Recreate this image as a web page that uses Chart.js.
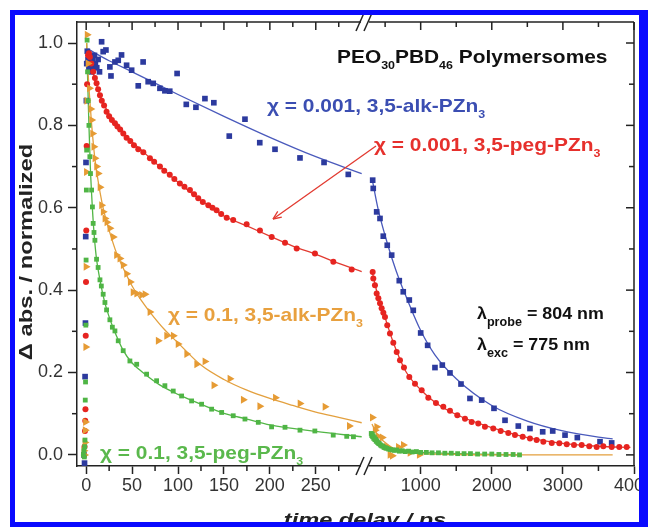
<!DOCTYPE html>
<html>
<head>
<meta charset="utf-8">
<script src="https://cdn.jsdelivr.net/npm/chart.js@4.4.1/dist/chart.umd.min.js"></script>
<style>
  html, body { margin: 0; padding: 0; background: #fff; }
</style>
</head>
<body>
<canvas id="myChart" width="648" height="527"></canvas>
<script>
// ------------------   DATA   ----------------
// time delay in ps, signal normalized. left panel 0-300 ps, right panel 300-4000 ps
const X_TICKS_LEFT = [0, 50, 100, 150, 200, 250];
const X_MINOR_LEFT = [25, 75, 125, 175, 225, 275];
const X_TICKS_RIGHT = [1000, 2000, 3000, 4000];
const X_MINOR_RIGHT = [500, 1500, 2500, 3500];
const Y_TICKS = [0, 0.2, 0.4, 0.6, 0.8, 1.0];
const Y_MINOR = [0.1, 0.3, 0.5, 0.7, 0.9];

// chi = 0.001, 3,5-alk-PZn3 (blue)
const blueLeftT = [-2.5, -1.8, -1.2, -0.8, -0.5, -0.2, 0.2, 0.6, 1.2, 2, 3, 4, 5, 6, 7, 8, 9, 10, 11.5, 13, 14.5, 16.8, 18.5, 21.5, 25.8, 27, 31.3, 34.9, 38.5, 44, 49.5, 56.7, 62, 67.5, 73, 80.3, 85.7, 91, 99, 109, 119.5, 129.3, 139, 155.8, 172.9, 189, 205.6, 232.8, 259, 285.4];
const blueLeftV = [0.0, -0.02, 0.19, 0.32, 0.53, 0.71, 0.86, 0.95, 0.98, 0.96, 0.94, 0.97, 0.95, 0.93, 0.96, 0.94, 0.97, 0.95, 0.94, 0.96, 0.93, 1.003, 0.979, 0.983, 0.942, 0.92, 0.954, 0.958, 0.971, 0.946, 0.934, 0.896, 0.954, 0.906, 0.902, 0.89, 0.884, 0.883, 0.926, 0.851, 0.844, 0.865, 0.855, 0.774, 0.815, 0.758, 0.742, 0.721, 0.710, 0.681];
const blueFitLeftT = [2, 25, 50, 100, 150, 200, 250, 300];
const blueFitLeftV = [0.985, 0.957, 0.930, 0.875, 0.822, 0.771, 0.724, 0.683];
const blueRightT = [325, 333, 381, 428, 474, 530, 592, 699, 755, 840, 896, 1000, 1098, 1201, 1304, 1412, 1567, 1693, 1858, 2031, 2186, 2373, 2537, 2716, 2857, 3030, 3203, 3522, 3686];
const blueRightV = [0.667, 0.647, 0.590, 0.574, 0.531, 0.509, 0.485, 0.423, 0.396, 0.376, 0.351, 0.296, 0.266, 0.212, 0.218, 0.199, 0.172, 0.137, 0.133, 0.113, 0.084, 0.070, 0.064, 0.056, 0.058, 0.048, 0.042, 0.032, 0.029];
const blueFitRightT = [315, 400, 500, 600, 700, 800, 1000, 1200, 1500, 2000, 2500, 3000, 3500, 3700];
const blueFitRightV = [0.672, 0.598, 0.532, 0.475, 0.425, 0.382, 0.302, 0.243, 0.185, 0.12, 0.082, 0.058, 0.043, 0.039];

// chi = 0.001, 3,5-peg-PZn3 (red)
const redLeftT = [-2.5, -1.8, -1.3, -1.0, -0.8, -0.5, -0.2, 0.1, 0.5, 1.0, 2, 3, 4, 5.5, 7.6, 9.5, 11.3, 13, 15, 17, 19.5, 22.2, 25, 28, 31.3, 34, 37, 40.4, 44, 48, 52, 56.7, 62.2, 69.4, 74, 80.3, 85, 91, 96, 102, 107, 113, 117.5, 122, 127, 133, 137.5, 142, 147, 153, 160.1, 174.7, 189.2, 202, 216.5, 229.2, 249.1, 269.1, 289.1];
const redLeftV = [0.0, 0.02, 0.058, 0.083, 0.111, 0.289, 0.42, 0.545, 0.75, 0.9, 0.97, 0.975, 0.966, 0.95, 0.93, 0.915, 0.902, 0.888, 0.873, 0.86, 0.848, 0.833, 0.822, 0.813, 0.805, 0.797, 0.79, 0.78, 0.77, 0.762, 0.752, 0.742, 0.735, 0.72, 0.712, 0.70, 0.69, 0.68, 0.67, 0.659, 0.651, 0.643, 0.633, 0.623, 0.614, 0.606, 0.6, 0.594, 0.585, 0.576, 0.570, 0.560, 0.545, 0.529, 0.515, 0.501, 0.489, 0.469, 0.450];
const redFitLeftT = [1.5, 3, 5, 10, 15, 20, 30, 40, 50, 60, 80, 100, 125, 150, 175, 200, 225, 250, 275, 300];
const redFitLeftV = [0.975, 0.968, 0.948, 0.908, 0.873, 0.848, 0.808, 0.782, 0.76, 0.74, 0.70, 0.662, 0.618, 0.58, 0.556, 0.531, 0.507, 0.487, 0.465, 0.445];
const redRightT = [325, 334, 357, 381, 405, 428, 451, 475, 498, 530, 568, 615, 663, 709, 765, 840, 920, 1014, 1107, 1215, 1318, 1412, 1515, 1623, 1717, 1810, 1904, 2021, 2125, 2232, 2326, 2435, 2537, 2631, 2725, 2843, 2950, 3054, 3156, 3264, 3371, 3475, 3568, 3686, 3793, 3897];
const redRightV = [0.444, 0.428, 0.412, 0.392, 0.38, 0.368, 0.356, 0.345, 0.335, 0.315, 0.295, 0.272, 0.250, 0.230, 0.212, 0.189, 0.173, 0.157, 0.139, 0.126, 0.117, 0.107, 0.096, 0.088, 0.080, 0.076, 0.068, 0.064, 0.058, 0.053, 0.048, 0.044, 0.040, 0.036, 0.032, 0.029, 0.028, 0.026, 0.024, 0.024, 0.021, 0.019, 0.021, 0.019, 0.019, 0.019];
const redFitRightT = [311, 400, 500, 600, 700, 800, 1000, 1200, 1500, 2000, 2500, 3000, 3500, 3950];
const redFitRightV = [0.45, 0.385, 0.333, 0.28, 0.236, 0.2, 0.158, 0.128, 0.098, 0.066, 0.042, 0.028, 0.021, 0.018];

// chi = 0.1, 3,5-alk-PZn3 (orange)
const orangeLeftT = [-2.5, -1.8, -1.4, -1.1, -0.8, -0.5, -0.2, 0.2, 0.6, 1.0, 2, 3.5, 5, 5.9, 7, 8.3, 9.5, 11.3, 13, 15, 16.7, 18.5, 20.4, 22.5, 25.8, 29.4, 33, 36.7, 40.3, 44, 48, 51, 55, 60.3, 64, 69.4, 78.4, 87.6, 94.8, 100, 109.4, 120.3, 129.3, 139, 156.5, 171, 189, 206, 232.8, 260, 286.5];
const orangeLeftV = [0.01, 0.0, 0.03, 0.06, 0.08, 0.262, 0.457, 0.687, 0.86, 1.02, 0.95, 0.89, 0.84, 0.813, 0.78, 0.748, 0.72, 0.70, 0.683, 0.65, 0.606, 0.59, 0.574, 0.565, 0.55, 0.529, 0.485, 0.477, 0.461, 0.44, 0.42, 0.395, 0.392, 0.388, 0.39, 0.347, 0.277, 0.289, 0.289, 0.269, 0.245, 0.220, 0.227, 0.169, 0.185, 0.134, 0.118, 0.139, 0.125, 0.117, 0.070];
const orangeFitLeftT = [0.5, 2, 4, 6, 8, 10, 13, 17, 20, 25, 33, 40, 50, 60, 70, 85, 100, 125, 150, 175, 200, 225, 250, 275, 300];
const orangeFitLeftV = [1.0, 0.93, 0.86, 0.80, 0.75, 0.71, 0.665, 0.615, 0.585, 0.545, 0.49, 0.455, 0.41, 0.375, 0.345, 0.305, 0.272, 0.218, 0.183, 0.157, 0.137, 0.12, 0.104, 0.091, 0.078];
const orangeRightT = [320, 360, 381, 400, 459, 520, 568, 600, 686, 756, 850, 980];
const orangeRightV = [0.091, 0.06, 0.068, 0.045, 0.042, 0.02, 0.0, -0.002, 0.019, 0.024, 0.005, 0.0];
const orangeFitRightT = [315, 400, 500, 600, 800, 1000, 1500, 2000, 3000, 3700];
const orangeFitRightV = [0.075, 0.047, 0.03, 0.018, 0.007, 0.003, 0.001, 0.0, 0.0, 0.0];

// chi = 0.1, 3,5-peg-PZn3 (green)
const greenLeftT = [-3, -2.5, -2, -1.6, -1.3, -1.0, -0.7, -0.4, -0.1, 0.2, 0.5, 1.0, 1.5, 2.2, 3, 4, 4.7, 5.9, 6.8, 7.6, 8.5, 9.5, 11.3, 13, 15, 16.5, 18.5, 20.4, 22.2, 25.8, 28.5, 31.3, 34.9, 40.3, 47.6, 55, 65.8, 76.7, 85.7, 94.8, 103.9, 114.8, 125.7, 136.6, 147.5, 160.1, 172.9, 187.4, 201.9, 216.5, 232.8, 249, 269, 283.7, 291];
const greenLeftV = [0.0, 0.01, -0.005, 0.02, 0.036, 0.133, 0.177, 0.315, 0.473, 0.643, 0.74, 1.007, 0.93, 0.86, 0.80, 0.724, 0.683, 0.643, 0.602, 0.562, 0.54, 0.521, 0.475, 0.455, 0.425, 0.41, 0.39, 0.37, 0.352, 0.328, 0.31, 0.301, 0.277, 0.253, 0.228, 0.22, 0.196, 0.18, 0.168, 0.155, 0.143, 0.131, 0.123, 0.111, 0.103, 0.095, 0.087, 0.079, 0.068, 0.067, 0.06, 0.058, 0.048, 0.045, 0.044];
const greenFitLeftT = [0.5, 1.5, 3, 4.5, 6, 8, 11, 15, 20, 25, 30, 40, 50, 60, 80, 100, 125, 150, 175, 200, 250, 300];
const greenFitLeftV = [1.0, 0.92, 0.8, 0.7, 0.63, 0.555, 0.48, 0.425, 0.372, 0.335, 0.305, 0.255, 0.223, 0.203, 0.17, 0.147, 0.123, 0.101, 0.087, 0.073, 0.057, 0.044];
const greenRightT = [305, 312, 318, 325, 332, 340, 348, 356, 365, 375, 385, 395, 408, 420, 435, 450, 468, 485, 505, 525, 550, 575, 600, 630, 660, 700, 740, 780, 830, 880, 940, 1000, 1080, 1160, 1250, 1340, 1430, 1520, 1610, 1700, 1800, 1900, 2000, 2100, 2200, 2300, 2390];
const greenRightV = [0.052, 0.047, 0.05, 0.044, 0.046, 0.04, 0.042, 0.037, 0.038, 0.033, 0.034, 0.03, 0.028, 0.027, 0.024, 0.022, 0.021, 0.018, 0.017, 0.016, 0.014, 0.013, 0.012, 0.011, 0.012, 0.009, 0.010, 0.008, 0.009, 0.007, 0.008, 0.006, 0.006, 0.005, 0.005, 0.004, 0.004, 0.003, 0.003, 0.003, 0.002, 0.002, 0.002, 0.001, 0.001, 0.001, 0.0];
const greenFitRightT = [305, 400, 500, 700, 1000, 1500, 2000, 2400];
const greenFitRightV = [0.048, 0.03, 0.019, 0.01, 0.006, 0.003, 0.001, 0.0];

// ------------------   STYLE   ----------------
const AXIS = '#222';
const FONT = '"Liberation Sans", Arial, Helvetica, sans-serif';
const BLUE = '#2c3a9e', BLUE_LN = '#4a5abc', BLUE_TXT = '#3b4eb2';
const RED = '#e62420', RED_LN = '#e23a30', RED_TXT = '#e6302c';
const ORANGE = '#e69b34', ORANGE_LN = '#e3a03e', ORANGE_TXT = '#e8a03e';
const GREEN = '#4fb545', GREEN_LN = '#52b646', GREEN_TXT = '#5ab84c';

// ------------   FUNCTIONS   ----------------------
const pts = (ts, vs) => ts.map((t, i) => ({ x: t, y: vs[i] }));

function marks(ts, vs, axis, color, style, r, order) {
  return {
    data: pts(ts, vs), xAxisID: axis, yAxisID: 'y', showLine: false,
    pointStyle: style, pointRadius: r, pointHoverRadius: r,
    rotation: style === 'triangle' ? 90 : 0,
    backgroundColor: color, borderColor: color, borderWidth: 0, order,
  };
}

function fit(ts, vs, axis, color) {
  return {
    data: pts(ts, vs), xAxisID: axis, yAxisID: 'y', showLine: true,
    pointRadius: 0, borderColor: color, borderWidth: 1.3,
    cubicInterpolationMode: 'monotone', order: 10,
  };
}

function line(ctx, xa, ya, xb, yb) {
  ctx.beginPath();
  ctx.moveTo(xa, ya);
  ctx.lineTo(xb, yb);
  ctx.stroke();
}

// text with subscripts, stretched horizontally by sx
function richText(ctx, x, y, parts, color, size, subSize, subDy, sx) {
  ctx.save();
  ctx.translate(x, y);
  ctx.scale(sx, 1);
  ctx.fillStyle = color;
  ctx.textAlign = 'left';
  ctx.textBaseline = 'alphabetic';
  let cx = 0;
  for (const [text, sub] of parts) {
    ctx.font = `bold ${sub ? subSize : size}px ${FONT}`;
    ctx.fillText(text, cx, sub ? subDy : 0);
    cx += ctx.measureText(text).width;
  }
  ctx.restore();
}

const decorations = {
  id: 'decorations',
  afterDraw(chart) {
    const { ctx, chartArea: a } = chart;
    const { x1, x2, y } = chart.scales;
    ctx.save();
    ctx.strokeStyle = AXIS;
    ctx.lineWidth = 1.5;
    // box: top and right
    line(ctx, a.left, a.top, a.right, a.top);
    line(ctx, a.right, a.top, a.right, a.bottom);

    // minor ticks (outside) on left / bottom
    Y_MINOR.forEach(v => { const py = y.getPixelForValue(v); line(ctx, a.left - 5, py, a.left, py); });
    X_MINOR_LEFT.forEach(v => { const px = x1.getPixelForValue(v); line(ctx, px, a.bottom, px, a.bottom + 5); });
    X_MINOR_RIGHT.forEach(v => { const px = x2.getPixelForValue(v); line(ctx, px, a.bottom, px, a.bottom + 5); });

    // mirrored ticks (inside) on top / right
    X_TICKS_LEFT.forEach(v => { const px = x1.getPixelForValue(v); line(ctx, px, a.top, px, a.top + 8); });
    X_MINOR_LEFT.forEach(v => { const px = x1.getPixelForValue(v); line(ctx, px, a.top, px, a.top + 5); });
    X_TICKS_RIGHT.forEach(v => { const px = x2.getPixelForValue(v); line(ctx, px, a.top, px, a.top + 8); });
    X_MINOR_RIGHT.forEach(v => { const px = x2.getPixelForValue(v); line(ctx, px, a.top, px, a.top + 5); });
    Y_TICKS.forEach(v => { const py = y.getPixelForValue(v); line(ctx, a.right - 8, py, a.right, py); });
    Y_MINOR.forEach(v => { const py = y.getPixelForValue(v); line(ctx, a.right - 5, py, a.right, py); });

    // axis break
    const bx = x2.left;
    [a.top, a.bottom].forEach(yy => {
      ctx.fillStyle = '#fff';
      ctx.fillRect(bx - 4, yy - 3, 8, 6);
      line(ctx, bx - 9, yy + 9, bx - 1, yy - 9);
      line(ctx, bx - 1, yy + 9, bx + 7, yy - 9);
    });

    // axis titles
    ctx.fillStyle = AXIS;
    ctx.save();
    ctx.translate(32, 252);
    ctx.rotate(-Math.PI / 2);
    ctx.scale(1.25, 1);
    ctx.font = `bold 19px ${FONT}`;
    ctx.textAlign = 'center';
    ctx.textBaseline = 'alphabetic';
    ctx.fillText('\u0394 abs. / normalized', 0, 0);
    ctx.restore();

    ctx.save();
    ctx.translate(365, 526);
    ctx.scale(1.24, 1);
    ctx.font = `italic bold 19px ${FONT}`;
    ctx.textAlign = 'center';
    ctx.fillText('time delay / ps', 0, 0);
    ctx.restore();

    // annotations
    richText(ctx, 337, 63, [['PEO'], ['30', 1], ['PBD'], ['46', 1], [' Polymersomes']], '#111', 18.5, 11, 6, 1.13);
    richText(ctx, 267, 112, [['\u03c7 = 0.001, 3,5-alk-PZn'], ['3', 1]], BLUE_TXT, 18.5, 11, 6, 1.13);
    richText(ctx, 374, 151, [['\u03c7 = 0.001, 3,5-peg-PZn'], ['3', 1]], RED_TXT, 18.5, 11, 6, 1.13);
    richText(ctx, 168, 321, [['\u03c7 = 0.1, 3,5-alk-PZn'], ['3', 1]], ORANGE_TXT, 18.5, 11, 6, 1.13);
    richText(ctx, 100, 459, [['\u03c7 = 0.1, 3,5-peg-PZn'], ['3', 1]], GREEN_TXT, 18.5, 11, 6, 1.13);
    richText(ctx, 477, 319, [['\u03bb'], ['probe', 1], [' = 804 nm']], '#111', 17, 12, 7, 1.05);
    richText(ctx, 477, 350, [['\u03bb'], ['exc', 1], [' = 775 nm']], '#111', 17, 12, 7, 1.05);

    // red arrow pointing to the red curve
    ctx.strokeStyle = RED_LN;
    ctx.lineWidth = 1.3;
    const ax0 = 376, ay0 = 146, ax1 = 273, ay1 = 219;
    line(ctx, ax0, ay0, ax1, ay1);
    const ang = Math.atan2(ay0 - ay1, ax0 - ax1);
    line(ctx, ax1, ay1, ax1 + 9 * Math.cos(ang + 0.4), ay1 + 9 * Math.sin(ang + 0.4));
    line(ctx, ax1, ay1, ax1 + 9 * Math.cos(ang - 0.4), ay1 + 9 * Math.sin(ang - 0.4));

    // blue frame of the figure
    ctx.fillStyle = '#0a0aff';
    ctx.fillRect(10, 10, 638, 5);
    ctx.fillRect(10, 10, 5, 517);
    ctx.fillRect(639, 10, 9, 517);
    ctx.fillRect(10, 522, 638, 5);
    ctx.restore();
  },
};

function xScale(min, max, weight, ticks) {
  return {
    type: 'linear', position: 'bottom', stack: 'time', stackWeight: weight,
    min, max,
    afterBuildTicks: s => { s.ticks = ticks.map(v => ({ value: v })); },
    afterFit: s => { s.height = 61; s.paddingLeft = 0; s.paddingRight = 0; },
    grid: { drawOnChartArea: false, tickLength: 8, tickColor: AXIS, tickWidth: 1.5 },
    border: { color: AXIS, width: 1.5 },
    ticks: { font: { family: FONT, size: 18 }, color: '#333', padding: 1, maxRotation: 0, autoSkip: false, callback: v => String(v) },
  };
}

let ctx = document.getElementById('myChart').getContext('2d');
let myChart = new Chart(ctx, {
  type: 'scatter',
  data: {
    datasets: [
      marks(greenLeftT, greenLeftV, 'x1', GREEN, 'rect', 3.4, 1),
      marks(greenRightT, greenRightV, 'x2', GREEN, 'rect', 3.4, 1),
      marks(orangeLeftT, orangeLeftV, 'x1', ORANGE, 'triangle', 4.6, 2),
      marks(orangeRightT, orangeRightV, 'x2', ORANGE, 'triangle', 4.6, 2),
      marks(redLeftT, redLeftV, 'x1', RED, 'circle', 3, 3),
      marks(redRightT, redRightV, 'x2', RED, 'circle', 3, 3),
      marks(blueLeftT, blueLeftV, 'x1', BLUE, 'rect', 4, 4),
      marks(blueRightT, blueRightV, 'x2', BLUE, 'rect', 4, 4),
      fit(blueFitLeftT, blueFitLeftV, 'x1', BLUE_LN),
      fit(blueFitRightT, blueFitRightV, 'x2', BLUE_LN),
      fit(redFitLeftT, redFitLeftV, 'x1', RED_LN),
      fit(redFitRightT, redFitRightV, 'x2', RED_LN),
      fit(orangeFitLeftT, orangeFitLeftV, 'x1', ORANGE_LN),
      fit(orangeFitRightT, orangeFitRightV, 'x2', ORANGE_LN),
      fit(greenFitLeftT, greenFitLeftV, 'x1', GREEN_LN),
      fit(greenFitRightT, greenFitRightV, 'x2', GREEN_LN),
    ],
  },
  options: {
    responsive: false,
    animation: false,
    devicePixelRatio: 1,
    layout: { padding: { left: 0, right: 14, top: 22, bottom: 0 } },
    plugins: { legend: { display: false }, tooltip: { enabled: false } },
    scales: {
      x1: xScale(-10, 303.6, 288, X_TICKS_LEFT),
      x2: xScale(217, 4000, 269, X_TICKS_RIGHT),
      y: {
        type: 'linear', position: 'left', min: -0.027, max: 1.051,
        afterBuildTicks: s => { s.ticks = Y_TICKS.map(v => ({ value: v })); },
        afterFit: s => { s.width = 77; s.paddingTop = 0; s.paddingBottom = 0; },
        grid: { drawOnChartArea: false, tickLength: 9, tickColor: AXIS, tickWidth: 1.5 },
        border: { color: AXIS, width: 1.5 },
        ticks: { font: { family: FONT, size: 18 }, color: '#333', padding: 5, callback: v => v.toFixed(1) },
      },
    },
  },
  plugins: [decorations],
});
</script>
</body>
</html>
